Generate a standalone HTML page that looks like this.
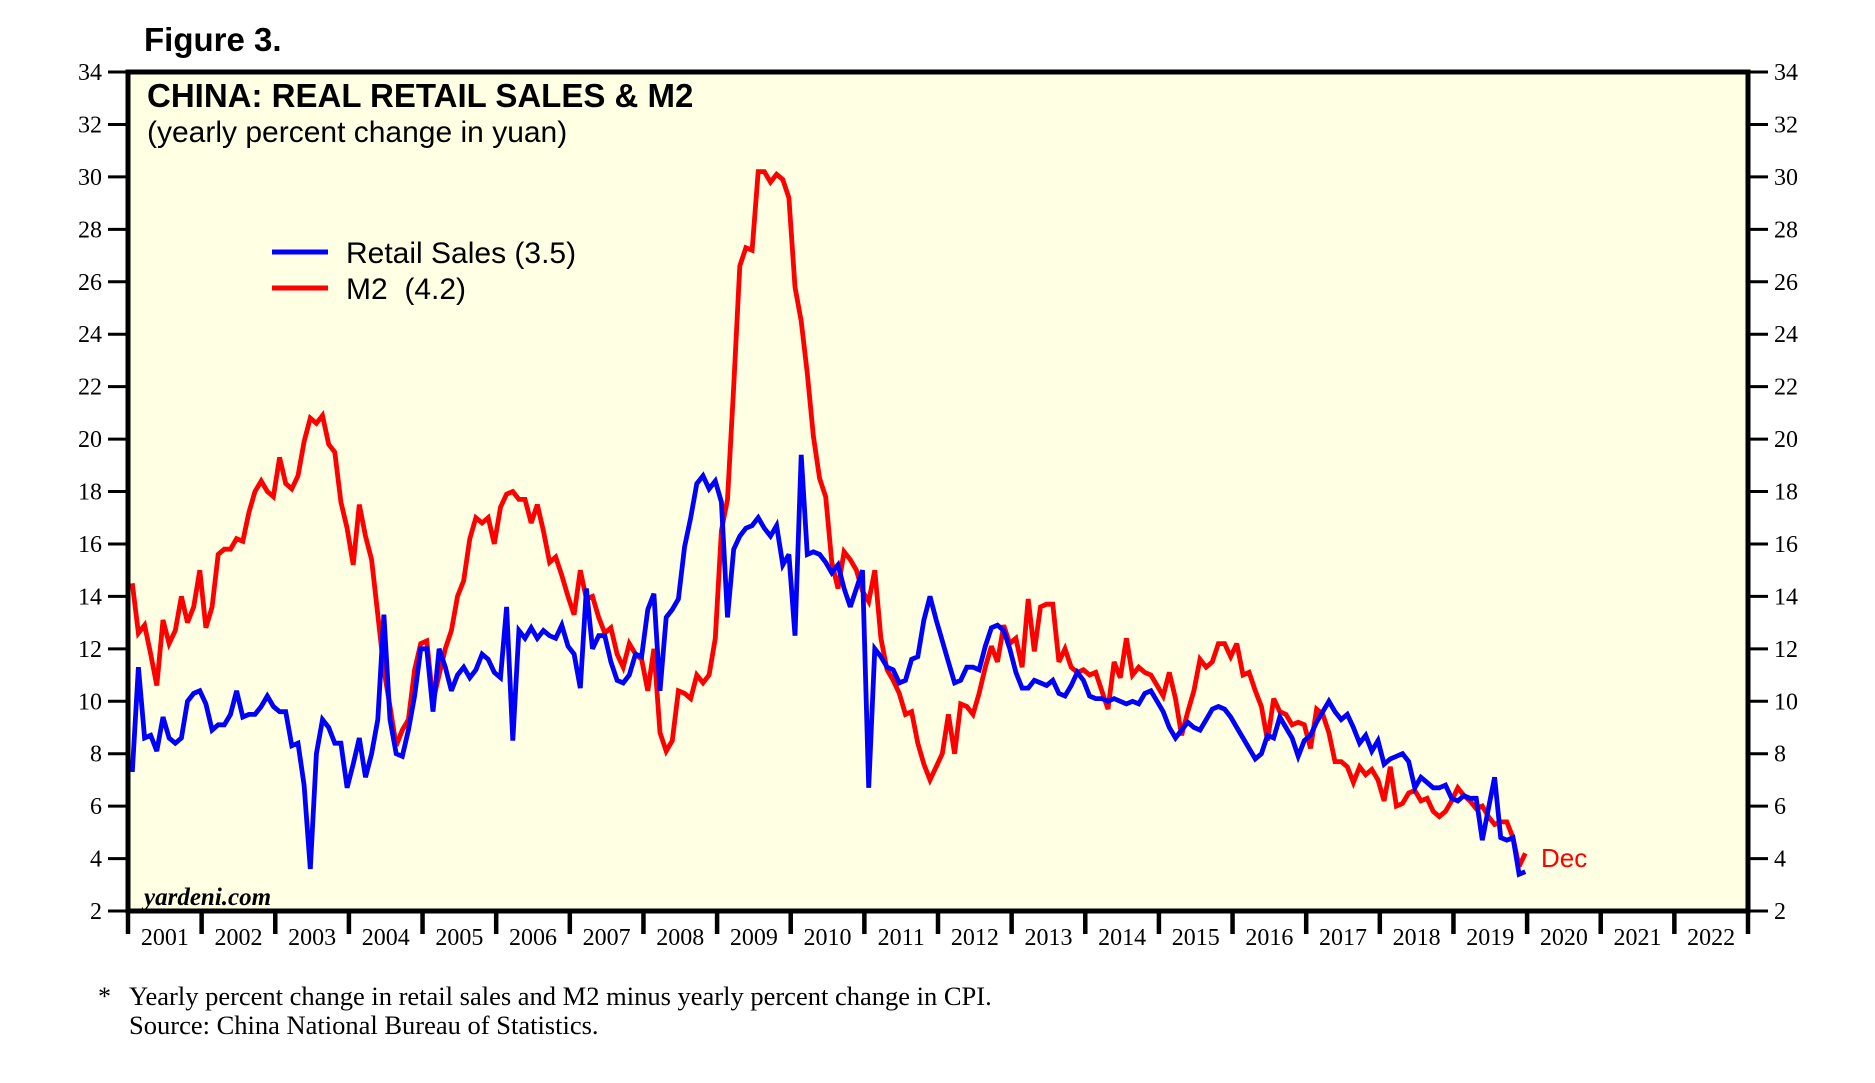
<!DOCTYPE html>
<html><head><meta charset="utf-8"><style>
html,body{margin:0;padding:0;background:#fff;width:1875px;height:1083px;overflow:hidden}
svg{display:block}
.sans{font-family:"Liberation Sans",Arial,sans-serif}
.serif{font-family:"Liberation Serif","Times New Roman",serif}
</style></head><body>
<svg id="chart" width="1875" height="1083" viewBox="0 0 1875 1083">
<text x="144" y="51" class="sans" font-size="33" font-weight="bold">Figure 3.</text>
<rect x="128" y="72" width="1620" height="839" fill="#ffffe3"/>
<g id="lines"></g>
<g id="axes"></g>
<rect x="128" y="72" width="1620" height="839" fill="none" stroke="#000" stroke-width="5"/>
<text x="147" y="107" class="sans" font-size="33" font-weight="bold">CHINA: REAL RETAIL SALES &amp; M2</text>
<text x="147" y="142" class="sans" font-size="30">(yearly percent change in yuan)</text>
<line x1="272" y1="252" x2="328" y2="252" stroke="#0000ff" stroke-width="5"/>
<text x="346" y="263" class="sans" font-size="30">Retail Sales (3.5)</text>
<line x1="272" y1="288" x2="328" y2="288" stroke="#ff0000" stroke-width="5"/>
<text x="346" y="299" class="sans" font-size="30" xml:space="preserve">M2  (4.2)</text>
<text x="144" y="905" class="serif" font-size="25" font-weight="bold" font-style="italic">yardeni.com</text>
<text x="1541" y="867" class="sans" font-size="26" fill="#ff0000">Dec</text>
<text x="98" y="1005" class="serif" font-size="26">*</text>
<text x="129" y="1005" class="serif" font-size="26.5">Yearly percent change in retail sales and M2 minus yearly percent change in CPI.</text>
<text x="129" y="1034" class="serif" font-size="26.5">Source: China National Bureau of Statistics.</text>
</svg>
<script>
const years = [2001,2002,2003,2004,2005,2006,2007,2008,2009,2010,2011,2012,2013,2014,2015,2016,2017,2018,2019,2020,2021,2022];
const yTicks = [2,4,6,8,10,12,14,16,18,20,22,24,26,28,30,32,34];
const retailSales = [
7.3,11.3,8.6,8.7,8.1,9.4,8.6,8.4,8.6,10.0,10.3,10.4,
9.9,8.9,9.1,9.1,9.5,10.4,9.4,9.5,9.5,9.8,10.2,9.8,
9.6,9.6,8.3,8.4,6.8,3.6,8.0,9.3,9.0,8.4,8.4,6.7,
7.6,8.6,7.1,8.0,9.3,13.3,9.3,8.0,7.9,8.9,10.2,12.0,
12.0,9.6,12.0,11.3,10.4,11.0,11.3,10.9,11.2,11.8,11.6,11.1,
10.9,13.6,8.5,12.7,12.4,12.8,12.4,12.7,12.5,12.4,12.9,12.1,
11.8,10.5,14.3,12.0,12.5,12.5,11.5,10.8,10.7,11.0,11.8,11.7,
13.5,14.1,10.4,13.2,13.5,13.9,15.9,17.0,18.3,18.6,18.1,18.4,
17.6,13.2,15.8,16.3,16.6,16.7,17.0,16.6,16.3,16.7,15.2,15.6,
12.5,19.4,15.6,15.7,15.6,15.3,14.9,15.2,14.3,13.6,14.3,15.0,
6.7,12.0,11.7,11.3,11.2,10.7,10.8,11.6,11.7,13.1,14.0,13.1,
12.3,11.5,10.7,10.8,11.3,11.3,11.2,12.1,12.8,12.9,12.7,12.0,
11.1,10.5,10.5,10.8,10.7,10.6,10.8,10.3,10.2,10.6,11.1,10.8,
10.2,10.1,10.1,10.0,10.1,10.0,9.9,10.0,9.9,10.3,10.4,10.0,
9.6,9.0,8.6,8.9,9.2,9.0,8.9,9.3,9.7,9.8,9.7,9.4,
9.0,8.6,8.2,7.8,8.0,8.7,8.6,9.4,9.0,8.6,7.9,8.5,
8.7,9.2,9.6,10.0,9.6,9.3,9.5,9.0,8.4,8.7,8.1,8.5,
7.6,7.8,7.9,8.0,7.7,6.7,7.1,6.9,6.7,6.7,6.8,6.3,
6.2,6.4,6.3,6.3,4.7,5.9,7.1,4.8,4.7,4.8,3.4,3.5];
const m2 = [
14.5,12.6,12.9,11.8,10.6,13.1,12.2,12.7,14.0,13.0,13.6,15.0,
12.8,13.6,15.6,15.8,15.8,16.2,16.1,17.2,18.0,18.4,18.0,17.8,
19.3,18.3,18.1,18.6,19.9,20.8,20.6,20.9,19.8,19.5,17.6,16.6,
15.2,17.5,16.3,15.4,13.3,11.2,9.8,8.3,8.9,9.3,11.2,12.2,
12.3,10.0,11.0,12.0,12.7,14.0,14.6,16.2,17.0,16.8,17.0,16.0,
17.4,17.9,18.0,17.7,17.7,16.8,17.5,16.5,15.3,15.5,14.8,14.0,
13.3,15.0,13.9,14.0,13.2,12.6,12.8,11.8,11.3,12.2,11.8,11.6,
10.4,12.0,8.8,8.1,8.5,10.4,10.3,10.1,11.0,10.7,11.0,12.4,
16.5,17.7,22.0,26.6,27.3,27.2,30.2,30.2,29.8,30.1,29.9,29.2,
25.8,24.5,22.5,20.1,18.5,17.8,15.3,14.3,15.7,15.4,15.0,14.2,
13.8,15.0,12.4,11.2,10.8,10.3,9.5,9.6,8.4,7.6,7.0,7.5,
8.0,9.5,8.0,9.9,9.8,9.5,10.3,11.3,12.1,11.5,12.9,12.2,
12.4,11.3,13.9,11.9,13.6,13.7,13.7,11.5,12.0,11.3,11.1,11.2,
11.0,11.1,10.4,9.7,11.5,10.9,12.4,11.0,11.3,11.1,11.0,10.6,
10.2,11.1,10.1,8.7,9.6,10.4,11.6,11.3,11.5,12.2,12.2,11.7,
12.2,11.0,11.1,10.4,9.8,8.5,10.1,9.6,9.5,9.1,9.2,9.1,
8.2,9.7,9.5,8.8,7.7,7.7,7.5,6.9,7.5,7.2,7.4,7.0,
6.2,7.5,6.0,6.1,6.5,6.6,6.2,6.3,5.8,5.6,5.8,6.2,
6.7,6.4,6.2,5.9,6.0,5.6,5.3,5.4,5.4,4.8,3.7,4.2];

const L=128,R=1748,T=72,B=911,YMIN=2,YMAX=34;
const yearW=(R-L)/years.length;
function yScale(v){return B-(v-YMIN)/(YMAX-YMIN)*(B-T);}
function xMonth(i){return L+(i+0.7)/12*yearW;}
const NS="http://www.w3.org/2000/svg";
const lines=document.getElementById('lines');
const axes=document.getElementById('axes');
function mk(tag,attrs,parent){const e=document.createElementNS(NS,tag);for(const k in attrs)e.setAttribute(k,attrs[k]);parent.appendChild(e);return e;}

function drawSeries(arr,color,name){
  const pts=arr.map((v,i)=>xMonth(i).toFixed(1)+','+yScale(v).toFixed(1)).join(' ');
  const p=mk('polyline',{points:pts,fill:'none',stroke:color,'stroke-width':4.8,'stroke-linejoin':'miter','stroke-miterlimit':3},lines);
  
  
}
drawSeries(m2,'#ff0000','m2-line');
drawSeries(retailSales,'#0000ff','retail-sales-line');

yTicks.forEach(v=>{
  const y=yScale(v);
  const t1=mk('line',{x1:108,x2:128,y1:y,y2:y,stroke:'#000','stroke-width':3},axes);
  
  
  const t2=mk('line',{x1:1748,x2:1768,y1:y,y2:y,stroke:'#000','stroke-width':3},axes);
  
  
  const a=mk('text',{x:102,y:y+8,'text-anchor':'end','font-size':24,'class':'serif'},axes);
  a.textContent=v;
  
  
  const b=mk('text',{x:1774,y:y+8,'font-size':24,'class':'serif'},axes);
  b.textContent=v;
  
  
});
for(let k=0;k<=years.length;k++){
  const x=L+k*yearW;
  const t=mk('line',{x1:x,x2:x,y1:911,y2:934,stroke:'#000','stroke-width':4.5},axes);
  
  
}
years.forEach((yr,k)=>{
  const t=mk('text',{x:L+(k+0.5)*yearW,y:945,'text-anchor':'middle','font-size':24,'class':'serif'},axes);
  t.textContent=yr;
  
  
});
</script>
</body></html>
